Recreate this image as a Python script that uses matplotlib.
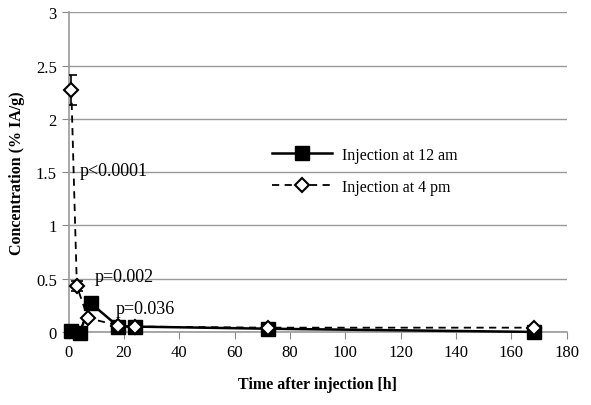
import matplotlib
matplotlib.use("Agg")
from matplotlib import pyplot as plt

plt.rcParams['font.family'] = ['Liberation Serif', 'DejaVu Serif']

# time points [h] and concentrations (% IA/g)
t_am = [1, 4, 8, 18, 24, 72, 168]
c_am = [0.01, -0.01, 0.27, 0.05, 0.05, 0.03, 0.0]

t_pm = [1, 3, 7, 18, 24, 72, 168]
c_pm = [2.27, 0.43, 0.13, 0.06, 0.05, 0.04, 0.04]
err_pm = [0.14, 0.05, 0.0, 0.0, 0.0, 0.0, 0.0]

p_labels = ["p<0.0001", "p=0.002", "p=0.036"]
p_x = [4.0, 9.5, 17.0]
p_y = [1.52, 0.52, 0.22]

fig = plt.figure(figsize=(5.91, 4.06), dpi=100)
ax = fig.add_axes([0.116, 0.18, 0.843, 0.787])

ax.plot(t_am, c_am, color='black', lw=1.8, marker='s', ms=10,
        mfc='black', mec='black', label='Injection at 12 am',
        zorder=3, clip_on=False)
# error bars first, then the dashed series on top
ax.errorbar(t_pm, c_pm, yerr=err_pm, fmt='none', ecolor='black',
            elinewidth=1.2, capsize=4, capthick=1.2, zorder=4)
ax.plot(t_pm, c_pm, color='black', lw=1.3, dashes=(4, 3),
        marker='D', ms=7, mfc='white', mec='black', mew=1.5,
        label='Injection at 4 pm', zorder=4, clip_on=False)

for s, x, y in zip(p_labels, p_x, p_y):
    ax.text(x, y, s, fontsize=13, va='center', ha='left', zorder=5)

ax.set_xlim(0, 180)
ax.set_ylim(0, 3)
ax.set_xticks(range(0, 181, 20))
ax.set_yticks([0, 0.5, 1, 1.5, 2, 2.5, 3])
ax.set_yticklabels(['0', '0.5', '1', '1.5', '2', '2.5', '3'])
ax.tick_params(labelsize=12, colors='#888888', labelcolor='black', length=5)
ax.grid(axis='y', color='#999999', lw=1)
ax.set_axisbelow(True)
for sp in ['top', 'right']:
    ax.spines[sp].set_visible(False)
for sp in ['left', 'bottom']:
    ax.spines[sp].set_color('#999999')
    ax.spines[sp].set_linewidth(1.2)

ax.set_xlabel('Time after injection [h]', fontsize=11.5, fontweight='bold', labelpad=12)
ax.set_ylabel('Concentration (% IA/g)', fontsize=11.5, fontweight='bold', labelpad=8)

ax.legend(loc='upper left', bbox_to_anchor=(0.446, 1 - 140 / 406),
          bbox_transform=fig.transFigure, frameon=False, fontsize=11.5,
          handlelength=3.8, handletextpad=0.6, labelspacing=1.0, borderpad=0)

fig.savefig('out.png', dpi=100)
